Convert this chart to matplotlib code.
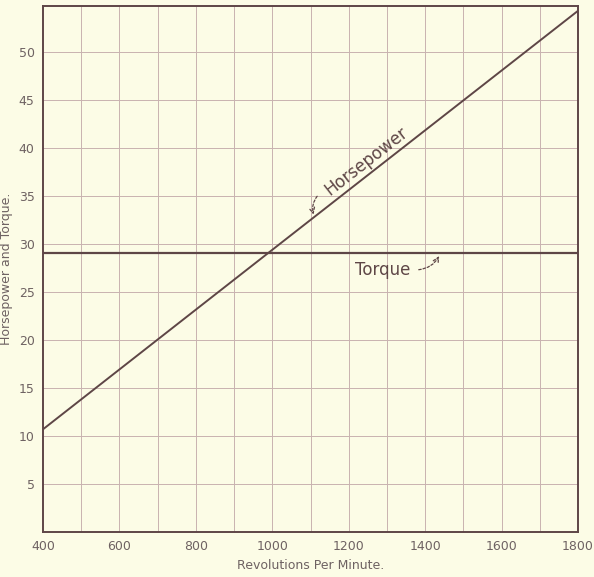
import matplotlib.pyplot as plt
import numpy as np

# values
rpm = [400, 1000, 1800]
horsepower = [10.7, 29.4, 54.3]
torque = [29.1, 29.1, 29.1]

x_ticks = [400, 600, 800, 1000, 1200, 1400, 1600, 1800]
y_ticks = [5, 10, 15, 20, 25, 30, 35, 40, 45, 50]

paper = '#fcfce6'
ink = '#5e4646'
text_col = '#6e6262'
grid_col = '#c9b2b0'

fig = plt.figure(figsize=(5.94, 5.77), dpi=100, facecolor=paper)
ax = fig.add_axes([43 / 594, 45 / 577, 535 / 594, 526 / 577], facecolor=paper)

ax.set_xlim(400, 1800)
ax.set_ylim(0, 54.8)

# grid: every 100 rpm and every 5 units
for gx in range(500, 1800, 100):
    ax.axvline(gx, color=grid_col, lw=0.7, zorder=1)
for gy in range(5, 55, 5):
    ax.axhline(gy, color=grid_col, lw=0.7, zorder=1)

ax.plot(rpm, horsepower, color=ink, lw=1.4, zorder=3)
ax.plot(rpm, torque, color=ink, lw=1.6, zorder=3)

for s in ax.spines.values():
    s.set_color(ink)
    s.set_linewidth(1.4)

ax.set_xticks(x_ticks)
ax.set_yticks(y_ticks)
ax.tick_params(length=0, colors=text_col, labelsize=9, pad=6)

ax.set_xlabel('Revolutions Per Minute.', color=text_col, fontsize=9, labelpad=4)
ax.set_ylabel('Horsepower and Torque.', color=text_col, fontsize=9, labelpad=4)

# labels with dashed pointer arrows
ax.text(1245, 38.6, 'Horsepower', rotation=37.9, rotation_mode='anchor',
        ha='center', va='center', color=ink, fontsize=12)
ax.annotate('', xy=(1110, 32.8), xytext=(1122, 35.2),
            arrowprops=dict(arrowstyle='->', color=ink, lw=0.9, ls=(0, (2, 1.5)),
                            connectionstyle='arc3,rad=0.3'))

ax.text(1290, 27.3, 'Torque', ha='center', va='center', color=ink, fontsize=12)
ax.annotate('', xy=(1440, 29.0), xytext=(1376, 27.3),
            arrowprops=dict(arrowstyle='->', color=ink, lw=0.9, ls=(0, (2, 1.5)),
                            connectionstyle='arc3,rad=0.3'))

fig.savefig('out.png', dpi=100, facecolor=paper)
